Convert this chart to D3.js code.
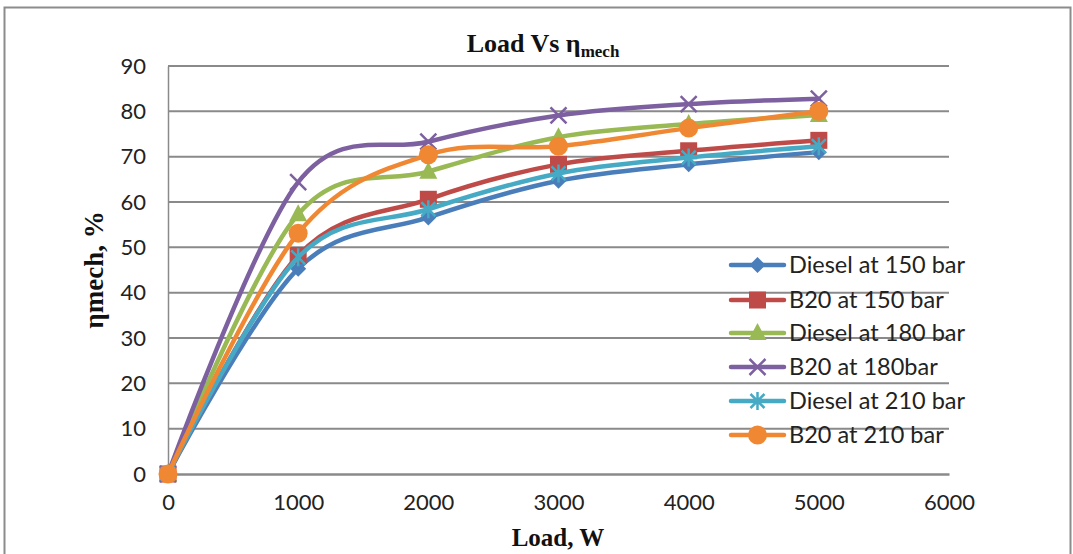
<!DOCTYPE html>
<html>
<head>
<meta charset="utf-8">
<script src="https://cdn.jsdelivr.net/npm/d3@7"></script>
<style>
  html, body { margin: 0; padding: 0; background: #fff; }
  svg { display: block; }
</style>
</head>
<body>
<svg id="chart" width="1073" height="554"></svg>
<script>
// Load in watts (x) and mechanical efficiency in % for each fuel / injection pressure
const loads = [0, 1000, 2000, 3000, 4000, 5000];
const diesel150 = [0, 45.3, 56.6, 64.7, 68.3, 71];
const b20_150   = [0, 48.2, 60.6, 68.3, 71.3, 73.6];
const diesel180 = [0, 57.3, 66.7, 74.3, 77.2, 79.2];
const b20_180   = [0, 64.4, 73.3, 79.1, 81.6, 82.8];
const diesel210 = [0, 47.8, 58.4, 66.3, 69.8, 72.3];
const b20_210   = [0, 53.1, 70.4, 72.3, 76.3, 80];
const seriesNames = ["Diesel at 150 bar", "B20 at 150 bar", "Diesel at 180 bar",
                     "B20 at 180bar", "Diesel at 210 bar", "B20 at 210 bar"];
const xTicks = [0, 1000, 2000, 3000, 4000, 5000, 6000];
const yTicks = [0, 10, 20, 30, 40, 50, 60, 70, 80, 90];

const seriesValues = [diesel150, b20_150, diesel180, b20_180, diesel210, b20_210];
const colors = ["#4A7EBB", "#BE4B48", "#98B954", "#7D60A0", "#46AAC5", "#F08833"];
const markers = ["diamond", "square", "triangle", "x", "star", "circle"];

const svg = d3.select("#chart");
const margin = { left: 168, right: 949, top: 66, bottom: 474 };

const x = d3.scaleLinear().domain([0, 6000]).range([margin.left, margin.right]);
const y = d3.scaleLinear().domain([0, 90]).range([margin.bottom, margin.top]);

// outer chart frame
svg.append("rect")
  .attr("x", 4.5).attr("y", 7.5).attr("width", 1066).attr("height", 560)
  .attr("fill", "none").attr("stroke", "#8c8c8c").attr("stroke-width", 2);

// horizontal gridlines
svg.append("g")
  .selectAll("line")
  .data(yTicks.filter(d => d > 0))
  .join("line")
  .attr("x1", x(0)).attr("x2", x(6000))
  .attr("y1", d => y(d)).attr("y2", d => y(d))
  .attr("stroke", "#8a8a8a").attr("stroke-width", 2);

// axes
const yAxis = d3.axisLeft(y).tickValues(yTicks).tickSize(0).tickPadding(22);
const xAxis = d3.axisBottom(x).tickValues(xTicks).tickFormat(d3.format("d")).tickSize(0).tickPadding(20);

const tickFont = "Lato, 'Open Sans', sans-serif";

const gy = svg.append("g").attr("transform", `translate(${x(0)},0)`).call(yAxis);
gy.select(".domain").attr("stroke", "#8a8a8a").attr("stroke-width", 1.5);
gy.selectAll("text").attr("font-family", tickFont).attr("font-size", 22).attr("fill", "#222");

const gx = svg.append("g").attr("transform", `translate(0,${y(0)})`).call(xAxis);
gx.select(".domain").attr("stroke", "#8a8a8a").attr("stroke-width", 2.5);
gx.selectAll("text").attr("font-family", tickFont).attr("font-size", 22).attr("fill", "#222");

// marker symbol drawing
function drawMarker(g, type, color, cx, cy) {
  const s = g.append("g").attr("transform", `translate(${cx},${cy})`);
  if (type === "diamond") {
    s.append("path").attr("d", "M0,-8L8,0L0,8L-8,0Z").attr("fill", color);
  } else if (type === "square") {
    s.append("rect").attr("x", -8.5).attr("y", -8.5).attr("width", 17).attr("height", 17).attr("fill", color);
  } else if (type === "triangle") {
    s.append("path").attr("d", "M0,-10L9,7L-9,7Z").attr("fill", color);
  } else if (type === "x") {
    s.append("path").attr("d", "M-8,-8L8,8M-8,8L8,-8").attr("stroke", color).attr("stroke-width", 2.5);
  } else if (type === "star") {
    s.append("path").attr("d", "M-7,-7L7,7M-7,7L7,-7M0,-9L0,9").attr("stroke", color).attr("stroke-width", 2.5);
  } else if (type === "circle") {
    s.append("circle").attr("r", 9.5).attr("fill", color);
  }
}

// smoothed series lines
const line = d3.line()
  .x((d, i) => x(loads[i]))
  .y(d => y(d))
  .curve(d3.curveCardinal.tension(0));

const plot = svg.append("g");
seriesValues.forEach((vals, k) => {
  const g = plot.append("g");
  g.append("path")
    .attr("d", line(vals))
    .attr("fill", "none")
    .attr("stroke", colors[k])
    .attr("stroke-width", 4.5)
    .attr("stroke-linejoin", "round")
    .attr("stroke-linecap", "round");
  vals.forEach((v, i) => drawMarker(g, markers[k], colors[k], x(loads[i]), y(v)));
});

// legend
const legend = svg.append("g");
const legendY = [265, 300, 333, 367, 401, 435];
seriesNames.forEach((name, k) => {
  const row = legend.append("g");
  row.append("line")
    .attr("x1", 731).attr("x2", 784)
    .attr("y1", legendY[k]).attr("y2", legendY[k])
    .attr("stroke", colors[k]).attr("stroke-width", 4.5).attr("stroke-linecap", "round");
  drawMarker(row, markers[k], colors[k], 757.5, legendY[k]);
  row.append("text")
    .attr("x", 789).attr("y", legendY[k])
    .attr("dy", "0.36em")
    .attr("font-family", tickFont).attr("font-size", 23.5).attr("fill", "#222")
    .text(name);
});

// title
const serif = "'Liberation Serif', 'Times New Roman', serif";
const title = svg.append("text")
  .attr("x", 543).attr("y", 52)
  .attr("text-anchor", "middle")
  .attr("font-family", serif)
  .attr("font-weight", "bold").attr("font-size", 26).attr("fill", "#111");
title.append("tspan").text("Load Vs η");
title.append("tspan").attr("font-size", 17).attr("dy", 5).text("mech");

// axis titles
svg.append("text")
  .attr("transform", `translate(103,${(y(0) + y(90)) / 2}) rotate(-90)`)
  .attr("text-anchor", "middle")
  .attr("font-family", serif)
  .attr("font-weight", "bold").attr("font-size", 27).attr("fill", "#111")
  .text("ηmech, %");

svg.append("text")
  .attr("x", 558).attr("y", 546)
  .attr("text-anchor", "middle")
  .attr("font-family", serif)
  .attr("font-weight", "bold").attr("font-size", 25).attr("fill", "#111")
  .text("Load, W");
</script>
</body>
</html>
